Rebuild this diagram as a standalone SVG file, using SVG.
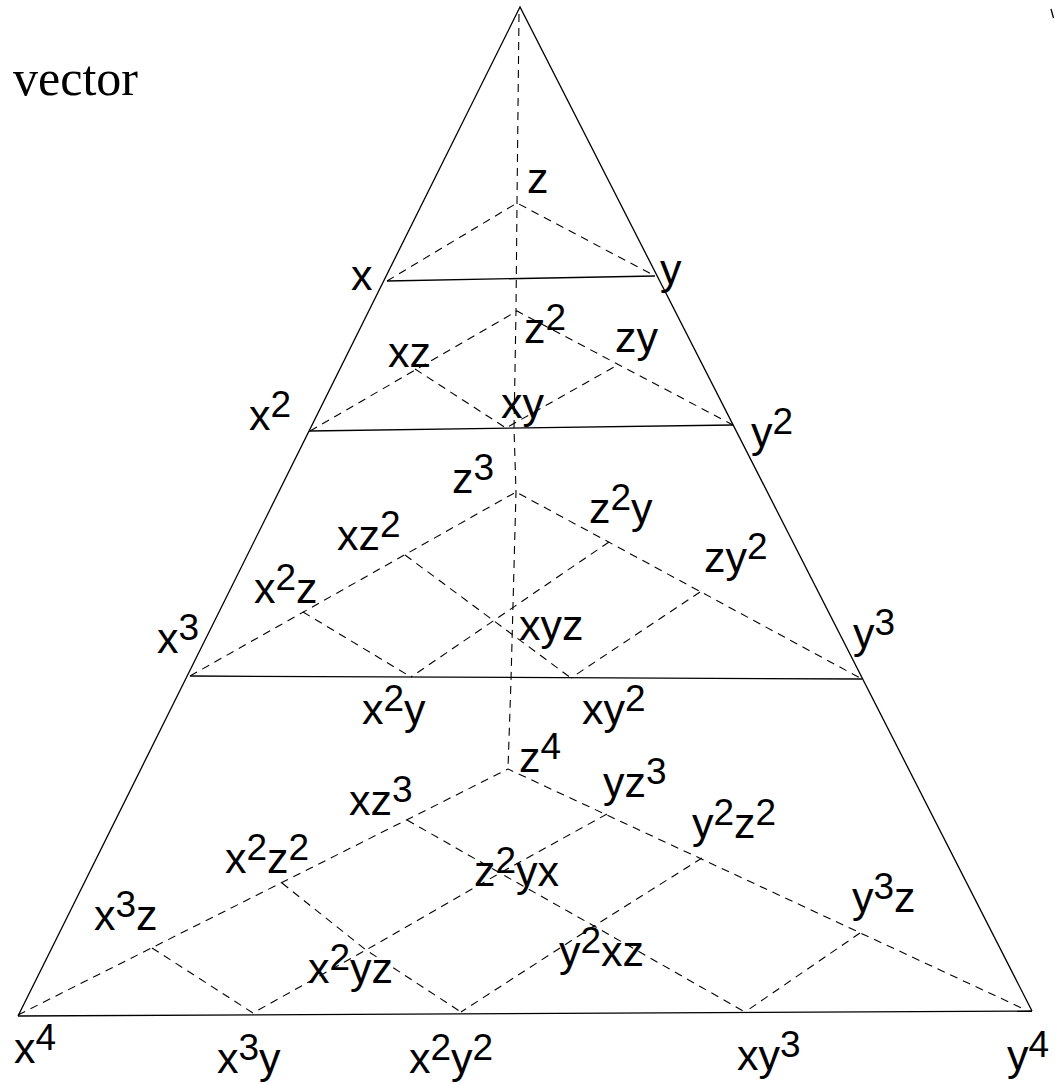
<svg xmlns="http://www.w3.org/2000/svg" width="1055" height="1083" viewBox="0 0 1055 1083">
<style>
.t{font-family:"Liberation Sans",Arial,sans-serif;font-size:43px;fill:#000}
.s{font-size:37px}
.solid{fill:none;stroke:#000;stroke-width:1.3}
.dash{fill:none;stroke:#000;stroke-width:1.1;stroke-dasharray:8 6}
.ttl{font-family:"Liberation Serif","Times New Roman",serif;font-size:50px;fill:#000}
</style>
<rect width="1055" height="1083" fill="#fff"/>
<g id="connectors">
<polyline class="solid" points="18,1016 520,7 1032,1011"/>
<line class="solid" x1="387" y1="281" x2="655" y2="276"/>
<line class="solid" x1="309" y1="431" x2="733" y2="425"/>
<line class="solid" x1="190" y1="676" x2="862" y2="679"/>
<line class="solid" x1="18" y1="1016" x2="1032" y2="1011"/>
<polyline class="dash" points="519,14 517,203 516,311 514,428 516,492 511,680 508,769"/>
<polyline class="dash" points="387,281 517,203 655,276"/>
<polyline class="dash" points="310,431 517,311 733,425"/>
<polyline class="dash" points="415,369 506,428 614,367"/>
<polyline class="dash" points="190,676 516,492 862,679"/>
<line class="dash" x1="303" y1="612" x2="411" y2="677"/>
<line class="dash" x1="405" y1="555" x2="571" y2="678"/>
<line class="dash" x1="609" y1="542" x2="411" y2="677"/>
<line class="dash" x1="700" y1="592" x2="571" y2="678"/>
<polyline class="dash" points="18,1015 508,769 1026,1010"/>
<line class="dash" x1="152" y1="948" x2="253" y2="1013"/>
<polyline class="dash" points="282,883 366,950 461,1012"/>
<polyline class="dash" points="407,820 500,873 594,926 745,1012"/>
<polyline class="dash" points="607,814 500,873 366,950 253,1013"/>
<polyline class="dash" points="702,858 594,926 461,1012"/>
<line class="dash" x1="860" y1="933" x2="745" y2="1012"/>
<line x1="1051" y1="9" x2="1053.5" y2="18" stroke="#000" stroke-width="1.3"/>
</g>
<g id="title"><text class="ttl" x="13" y="95">vector</text></g>
<g id="n-z"><text class="t" x="527" y="193">z</text></g>
<g id="n-x"><text class="t" x="351" y="290">x</text></g>
<g id="n-y"><text class="t" x="660" y="284">y</text></g>
<g id="n-z2"><text class="t" x="524" y="343">z<tspan class="s" dy="-13">2</tspan></text></g>
<g id="n-xz"><text class="t" x="388" y="367">xz</text></g>
<g id="n-zy"><text class="t" x="615" y="352">zy</text></g>
<g id="n-xy"><text class="t" x="501" y="418">xy</text></g>
<g id="n-x2"><text class="t" x="249" y="430">x<tspan class="s" dy="-13">2</tspan></text></g>
<g id="n-y2"><text class="t" x="751" y="447">y<tspan class="s" dy="-13">2</tspan></text></g>
<g id="n-z3"><text class="t" x="452" y="493">z<tspan class="s" dy="-13">3</tspan></text></g>
<g id="n-xz2"><text class="t" x="337" y="550">xz<tspan class="s" dy="-13">2</tspan></text></g>
<g id="n-x2z"><text class="t" x="254" y="603">x<tspan class="s" dy="-13">2</tspan><tspan dy="13">z</tspan></text></g>
<g id="n-x3"><text class="t" x="157" y="653">x<tspan class="s" dy="-13">3</tspan></text></g>
<g id="n-z2y"><text class="t" x="589" y="523">z<tspan class="s" dy="-13">2</tspan><tspan dy="13">y</tspan></text></g>
<g id="n-zy2"><text class="t" x="704" y="572">zy<tspan class="s" dy="-13">2</tspan></text></g>
<g id="n-xyz"><text class="t" x="519" y="640">xyz</text></g>
<g id="n-y3"><text class="t" x="853" y="648">y<tspan class="s" dy="-13">3</tspan></text></g>
<g id="n-x2y"><text class="t" x="362" y="724">x<tspan class="s" dy="-13">2</tspan><tspan dy="13">y</tspan></text></g>
<g id="n-xy2"><text class="t" x="582" y="724">xy<tspan class="s" dy="-13">2</tspan></text></g>
<g id="n-z4"><text class="t" x="519" y="772">z<tspan class="s" dy="-13">4</tspan></text></g>
<g id="n-xz3"><text class="t" x="349" y="815">xz<tspan class="s" dy="-13">3</tspan></text></g>
<g id="n-yz3"><text class="t" x="603" y="797">yz<tspan class="s" dy="-13">3</tspan></text></g>
<g id="n-x2z2"><text class="t" x="225" y="873">x<tspan class="s" dy="-13">2</tspan><tspan dy="13">z</tspan><tspan class="s" dy="-13">2</tspan></text></g>
<g id="n-y2z2"><text class="t" x="692" y="838">y<tspan class="s" dy="-13">2</tspan><tspan dy="13">z</tspan><tspan class="s" dy="-13">2</tspan></text></g>
<g id="n-z2yx"><text class="t" x="474" y="886">z<tspan class="s" dy="-13">2</tspan><tspan dy="13">yx</tspan></text></g>
<g id="n-x3z"><text class="t" x="94" y="930">x<tspan class="s" dy="-13">3</tspan><tspan dy="13">z</tspan></text></g>
<g id="n-y3z"><text class="t" x="852" y="912">y<tspan class="s" dy="-13">3</tspan><tspan dy="13">z</tspan></text></g>
<g id="n-x2yz"><text class="t" x="308" y="983">x<tspan class="s" dy="-13">2</tspan><tspan dy="13">yz</tspan></text></g>
<g id="n-y2xz"><text class="t" x="559" y="966">y<tspan class="s" dy="-13">2</tspan><tspan dy="13">xz</tspan></text></g>
<g id="n-x4"><text class="t" x="14" y="1063">x<tspan class="s" dy="-13">4</tspan></text></g>
<g id="n-x3y"><text class="t" x="217" y="1073">x<tspan class="s" dy="-13">3</tspan><tspan dy="13">y</tspan></text></g>
<g id="n-x2y2"><text class="t" x="409" y="1073">x<tspan class="s" dy="-13">2</tspan><tspan dy="13">y</tspan><tspan class="s" dy="-13">2</tspan></text></g>
<g id="n-xy3"><text class="t" x="737" y="1070">xy<tspan class="s" dy="-13">3</tspan></text></g>
<g id="n-y4"><text class="t" x="1007" y="1070">y<tspan class="s" dy="-13">4</tspan></text></g>
</svg>
